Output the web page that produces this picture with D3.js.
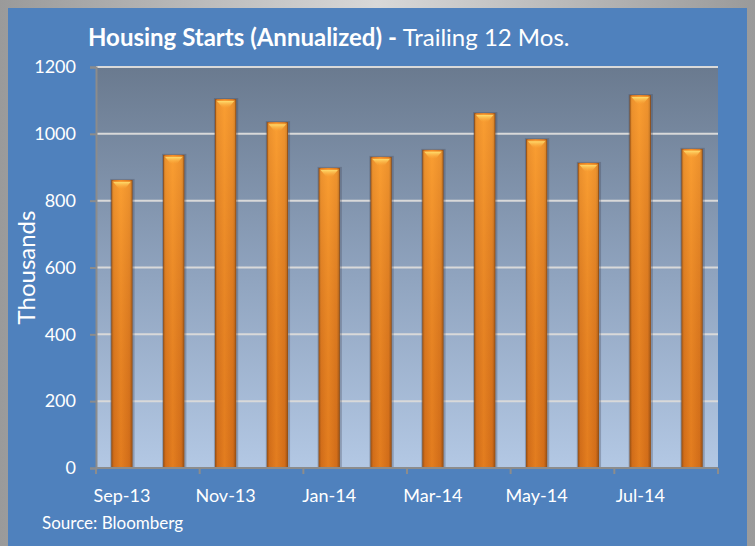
<!DOCTYPE html>
<html>
<head>
<meta charset="utf-8">
<style>
body { margin: 0; background: #fff; }
text { font-family: Lato, "Open Sans", sans-serif; fill: #fff; }
</style>
</head>
<body>
<svg width="755" height="546"></svg>
<script src="https://d3js.org/d3.v7.min.js"></script>
<script>

// monthly housing starts, thousands (annualized)
var months = ["Sep-13","Oct-13","Nov-13","Dec-13","Jan-14","Feb-14","Mar-14","Apr-14","May-14","Jun-14","Jul-14","Aug-14"];
var starts = [862, 937, 1104, 1035, 898, 931, 952, 1062, 984, 913, 1116, 955];
var yTicks = [0, 200, 400, 600, 800, 1000, 1200];

var svg = d3.select("svg"),
  width = +svg.attr("width"),
  height = +svg.attr("height");

var defs = svg.append("defs");

// frame glow
var frame = defs.append("linearGradient").attr("id", "frame").attr("x1", 0).attr("x2", 1);
frame.append("stop").attr("offset", 0).attr("stop-color", "#9a9a9a");
frame.append("stop").attr("offset", 0.5).attr("stop-color", "#d8d8d8");
frame.append("stop").attr("offset", 1).attr("stop-color", "#9a9a9a");

var plotBg = defs.append("linearGradient").attr("id", "plotBg").attr("x1", 0).attr("x2", 0).attr("y1", 0).attr("y2", 1);
plotBg.append("stop").attr("offset", 0).attr("stop-color", "#6a7a8f");
plotBg.append("stop").attr("offset", 0.5).attr("stop-color", "#8ea2bd");
plotBg.append("stop").attr("offset", 1).attr("stop-color", "#b3c8e4");

var barH = defs.append("linearGradient").attr("id", "barH").attr("x1", 0).attr("x2", 1);
barH.append("stop").attr("offset", 0).attr("stop-color", "#8a4a14");
barH.append("stop").attr("offset", 0.12).attr("stop-color", "#dc761c");
barH.append("stop").attr("offset", 0.45).attr("stop-color", "#f48c24");
barH.append("stop").attr("offset", 0.85).attr("stop-color", "#dc761c");
barH.append("stop").attr("offset", 1).attr("stop-color", "#8a4a14");

var barV = defs.append("linearGradient").attr("id", "barV").attr("x1", 0).attr("x2", 0).attr("y1", 0).attr("y2", 1);
barV.append("stop").attr("offset", 0).attr("stop-color", "#ffb040").attr("stop-opacity", 0.5);
barV.append("stop").attr("offset", 1).attr("stop-color", "#b05010").attr("stop-opacity", 0.25);

var cap = defs.append("linearGradient").attr("id", "cap").attr("x1", 0).attr("x2", 0).attr("y1", 0).attr("y2", 1);
cap.append("stop").attr("offset", 0).attr("stop-color", "#ffe070").attr("stop-opacity", 0.95);
cap.append("stop").attr("offset", 1).attr("stop-color", "#ffb040").attr("stop-opacity", 0);

// outer frame and blue panel
svg.append("rect").attr("width", width).attr("height", height).attr("fill", "url(#frame)");
svg.append("rect").attr("x", 8).attr("y", 8).attr("width", 739).attr("height", 546)
  .attr("fill", "#4f81bd");

var margin = {top: 67, right: 37, bottom: 78, left: 96};
var x = d3.scaleBand().domain(months).range([margin.left, width - margin.right])
  .paddingInner(0.59).paddingOuter(0.295);
var y = d3.scaleLinear().domain([0, 1200]).range([height - margin.bottom, margin.top]);

svg.append("rect")
  .attr("x", margin.left).attr("y", margin.top)
  .attr("width", width - margin.right - margin.left)
  .attr("height", y(0) - margin.top)
  .attr("fill", "url(#plotBg)");

// gridlines
svg.append("g").selectAll("line").data(yTicks.filter(function(d) { return d > 0; }))
  .enter().append("line")
    .attr("x1", margin.left).attr("x2", width - margin.right)
    .attr("y1", function(d) { return y(d); }).attr("y2", function(d) { return y(d); })
    .attr("stroke", "#d9d9d9").attr("stroke-width", 2);

// y axis
var yAxis = svg.append("g").attr("transform", "translate(" + margin.left + ",0)")
  .call(d3.axisLeft(y).tickValues(yTicks).tickFormat(d3.format("d")).tickSize(6).tickPadding(14));
yAxis.select(".domain").attr("stroke", "#8c8c8c").attr("stroke-width", 2);
yAxis.selectAll(".tick line").attr("stroke", "#8c8c8c").attr("stroke-width", 2);
yAxis.selectAll("text").style("font-size", "18px").attr("fill", "#fff");

// bars
var bars = svg.append("g").selectAll("g").data(starts).enter().append("g");
bars.append("rect")
  .attr("x", function(d, i) { return x(months[i]) - 1; })
  .attr("y", function(d) { return y(d) - 1; })
  .attr("width", x.bandwidth() + 3)
  .attr("height", function(d) { return y(0) - y(d) + 1; })
  .attr("fill", "#3a4050").attr("opacity", 0.3);
bars.append("rect")
  .attr("x", function(d, i) { return x(months[i]); })
  .attr("y", function(d) { return y(d); })
  .attr("width", x.bandwidth())
  .attr("height", function(d) { return y(0) - y(d); })
  .attr("fill", "url(#barH)");
bars.append("rect")
  .attr("x", function(d, i) { return x(months[i]) + 1; })
  .attr("y", function(d) { return y(d) + 1; })
  .attr("width", x.bandwidth() - 2)
  .attr("height", function(d) { return y(0) - y(d) - 1; })
  .attr("fill", "url(#barV)");
bars.append("path")
  .attr("d", function(d, i) {
    var x0 = x(months[i]) + 2, x1 = x(months[i]) + x.bandwidth() - 2, yt = y(d) + 2;
    return "M" + x0 + "," + yt + "L" + x1 + "," + yt + "L" + ((x0 + x1) / 2 + 3) + "," + (yt + 7) +
      "L" + ((x0 + x1) / 2 - 3) + "," + (yt + 7) + "Z";
  })
  .attr("fill", "url(#cap)");

// x axis: ticks every two months, labels under first bar of each pair
var step = x.step();
var tickPos = d3.range(0, months.length + 1, 2).map(function(i) { return margin.left + i * step; });
svg.append("line")
  .attr("x1", margin.left).attr("x2", width - margin.right)
  .attr("y1", y(0)).attr("y2", y(0))
  .attr("stroke", "#8c8c8c").attr("stroke-width", 2);
svg.append("g").selectAll("line").data(tickPos).enter().append("line")
  .attr("x1", function(d) { return d; }).attr("x2", function(d) { return d; })
  .attr("y1", y(0)).attr("y2", y(0) + 6)
  .attr("stroke", "#8c8c8c").attr("stroke-width", 2);
svg.append("g").selectAll("text").data(months.filter(function(d, i) { return i % 2 === 0; }))
  .enter().append("text")
    .attr("x", function(d) { return x(d) + x.bandwidth() / 2; })
    .attr("y", y(0) + 34)
    .attr("text-anchor", "middle")
    .style("font-size", "18px")
    .text(function(d) { return d; });

// titles
var title = svg.append("text").attr("x", 88).attr("y", 46).style("font-size", "24px");
title.append("tspan").style("font-weight", "bold").text("Housing Starts (Annualized) - ");
title.append("tspan").text("Trailing 12 Mos.");

svg.append("text")
  .attr("transform", "translate(35," + ((margin.top + y(0)) / 2) + ") rotate(-90)")
  .attr("text-anchor", "middle")
  .style("font-size", "24px")
  .text("Thousands");

svg.append("text").attr("x", 42).attr("y", 529).style("font-size", "17px").text("Source: Bloomberg");

</script>
</body>
</html>
